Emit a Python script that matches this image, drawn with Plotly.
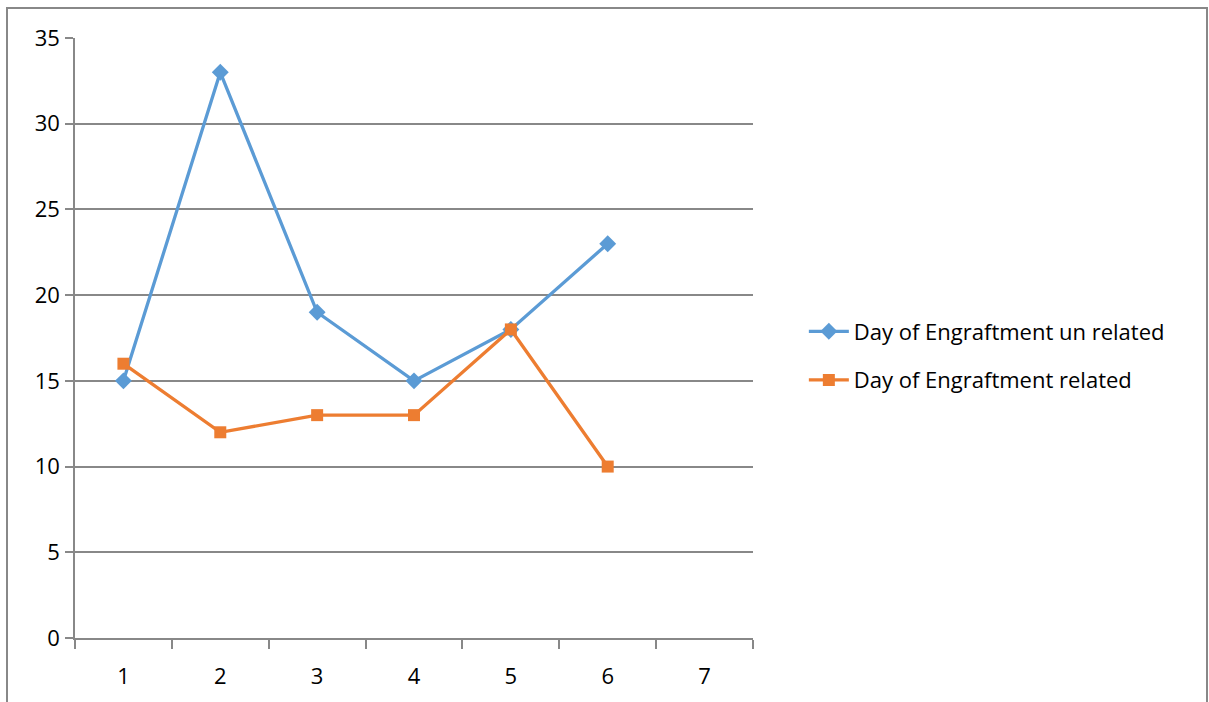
import plotly.graph_objects as go

categories = ["1", "2", "3", "4", "5", "6", "7"]
x_vals = ["1", "2", "3", "4", "5", "6"]
unrelated = [15, 33, 19, 15, 18, 23]
related = [16, 12, 13, 13, 18, 10]
series_names = ["Day of Engraftment un related", "Day of Engraftment related"]

GRID = "#888888"
FONT = "'Open Sans', Lato, sans-serif"
FS = 22

fig = go.Figure()
fig.add_trace(go.Scatter(
    x=x_vals, y=unrelated, name=series_names[0], mode="lines+markers",
    line=dict(color="#5B9BD5", width=3.3),
    marker=dict(symbol="diamond", size=13, color="#5B9BD5"),
    legendgroup="a",
))
fig.add_trace(go.Scatter(
    x=x_vals, y=related, name=series_names[1], mode="lines+markers",
    line=dict(color="#ED7D31", width=3.3),
    marker=dict(symbol="square", size=12, color="#ED7D31"),
    legendgroup="b",
))

fig.update_layout(
    width=1209, height=702,
    margin=dict(l=75, r=456, t=38, b=64),
    paper_bgcolor="white", plot_bgcolor="white",
    font=dict(family=FONT, size=FS, color="#000000"),
    showlegend=True,
    legend=dict(
        x=1.075, y=0.47, xanchor="left", yanchor="middle",
        font=dict(family=FONT, size=FS, color="#000000"),
        tracegroupgap=17, bgcolor="rgba(0,0,0,0)",
        itemwidth=40,
    ),
    xaxis=dict(
        type="category", categoryorder="array", categoryarray=categories,
        range=[-0.5, 6.5], tickson="boundaries", ticks="outside", ticklen=9,
        tickcolor=GRID, tickwidth=1.5, showgrid=False,
        showline=True, linecolor=GRID, linewidth=1.5,
        tickfont=dict(family=FONT, size=FS), ticklabelstandoff=18,
    ),
    yaxis=dict(
        range=[0, 35], tickvals=[0, 5, 10, 15, 20, 25, 30, 35],
        ticks="outside", ticklen=8, tickcolor=GRID, tickwidth=1.5,
        showgrid=True, gridcolor=GRID, gridwidth=1.5,
        showline=True, linecolor=GRID, linewidth=1.5, zeroline=False,
        tickfont=dict(family=FONT, size=FS), ticklabelstandoff=1,
    ),
    shapes=[dict(
        type="rect", xref="paper", yref="paper",
        x0=(7 - 75) / 678, x1=(1207 - 75) / 678,
        y0=-0.2, y1=(638 - 8) / 600,
        line=dict(color=GRID, width=2), fillcolor="rgba(0,0,0,0)", layer="below",
    )],
)

fig.write_html("out.html")
